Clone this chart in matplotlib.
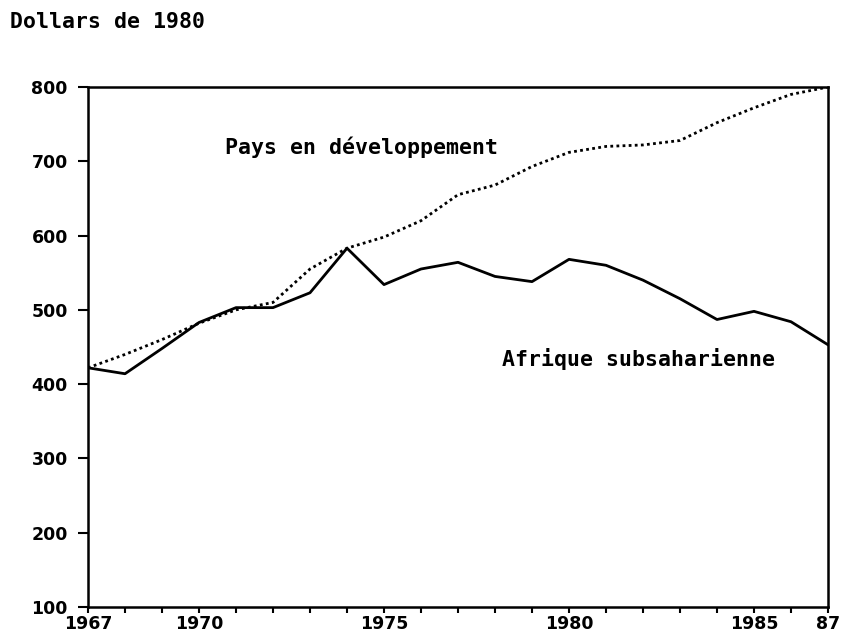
import numpy as np
import matplotlib.pyplot as plt
from matplotlib.ticker import MultipleLocator

# data (1980 dollars)
years = list(range(1967, 1988))
pays_dev = [422, 440, 460, 482, 500, 510, 555, 583, 598, 620, 655,
            668, 693, 712, 720, 722, 728, 752, 772, 790, 800]
afrique = [422, 414, 448, 483, 503, 503, 523, 583, 534, 555, 564,
           545, 538, 568, 560, 540, 515, 487, 498, 484, 453]

xticks = [1967, 1970, 1975, 1980, 1985, 1987]
xticklabels = ['1967', '1970', '1975', '1980', '1985', '87']
yticks = [100, 200, 300, 400, 500, 600, 700, 800]

mono = 'DejaVu Sans Mono'

fig = plt.figure(figsize=(8.43, 6.36), dpi=100)
ax = fig.add_axes([0.1044, 0.0456, 0.8778, 0.8176])

ax.plot(years, afrique, color='black', lw=2.0, solid_joinstyle='round')
ax.plot(years, pays_dev, color='black', lw=2.0, linestyle=(0, (1, 1.2)))

ax.set_xlim(1967, 1987)
ax.set_ylim(100, 800)
ax.set_xticks(xticks)
ax.set_xticklabels(xticklabels)
ax.xaxis.set_minor_locator(MultipleLocator(1))
ax.set_yticks(yticks)

for lab in ax.get_xticklabels() + ax.get_yticklabels():
    lab.set_fontfamily('DejaVu Sans')
    lab.set_fontweight('bold')
    lab.set_fontsize(12.5)

ax.tick_params(axis='x', which='both', direction='out', length=4.5, width=1.5, pad=1)
ax.tick_params(axis='y', direction='out', length=7.5, width=1.5, pad=7)
for s in ax.spines.values():
    s.set_linewidth(1.8)

ax.text(1970.7, 719, 'Pays en développement', fontfamily=mono,
        fontweight='bold', fontsize=15.5, va='center')
ax.text(1978.2, 434, 'Afrique subsaharienne', fontfamily=mono,
        fontweight='bold', fontsize=15.5, va='center')
fig.text(0.012, 0.965, 'Dollars de 1980', fontfamily=mono,
         fontweight='bold', fontsize=15.5, va='center')

plt.savefig('out.png', dpi=100)
